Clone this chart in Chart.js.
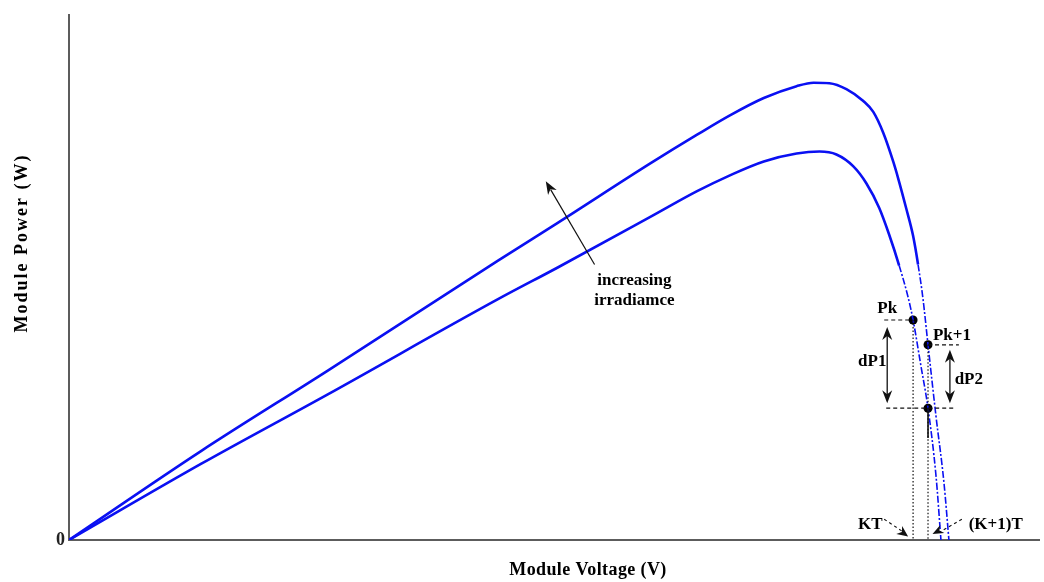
<!DOCTYPE html>
<html>
<head>
<meta charset="utf-8">
<title>Module power versus voltage</title>
<script src="https://cdn.jsdelivr.net/npm/chart.js@4/dist/chart.umd.min.js"></script>
<style>
  html, body { margin: 0; padding: 0; background: #fff; }
  #wrap { width: 1044px; height: 582px; }
</style>
</head>
<body>
<div id="wrap"><canvas id="pv" width="1044" height="582"></canvas></div>
<script>
// P-V curve at the higher irradiance (voltage in V, power in W)
const highV = [0, 5.32, 10.4, 17.24, 19.64, 23.36, 25.24, 26.56, 27.92, 29.24, 29.92, 30.56, 31.24, 31.92, 32.32, 32.72, 33.12, 33.32, 33.64, 33.92, 34.12, 34.32, 34.52, 34.84, 35.16, 35.36];
const highP = [0, 18.0, 34.2, 56.4, 64.0, 76.0, 81.8, 85.7, 89.2, 91.6, 92.3, 92.2, 91.0, 88.6, 86.4, 82.2, 76.4, 73.0, 67.0, 61.4, 55.6, 48.6, 39.4, 25.0, 11.6, 0];

// P-V curve at the lower irradiance
const lowV = [0, 5.32, 10.4, 17.24, 19.64, 23.36, 25.24, 26.56, 27.92, 29.24, 30.16, 30.84, 31.52, 32.04, 32.56, 32.96, 33.36, 33.72, 33.92, 34.24, 34.52, 34.84, 35.04];
const lowP = [0, 15.4, 29.4, 48.6, 55.0, 65.2, 70.4, 73.6, 76.4, 78.0, 78.4, 77.8, 75.4, 72.0, 67.0, 61.6, 55.4, 49.0, 44.4, 35.0, 26.6, 13.0, 0];

// Sampled operating points: Pk at kT, Pk+1 at (k+1)T, and the low-curve power at (k+1)T
const markNames = ['Pk', 'Pk+1', 'P(k+1) low'];
const markV = [33.92, 34.52, 34.52];
const markP = [44.4, 39.4, 26.6];

// Axis extents and the only tick shown
const axisV = [0, 39];
const axisP = [0, 106];
const yTicks = [0];

const toXY = (vs, ps) => vs.map((v, i) => ({ x: v, y: ps[i] }));

const BLUE = '#0a10f2';
const AXIS = '#5c5c5c';
const SERIF = '"Liberation Serif", "Times New Roman", serif';

// On the falling side, below this power the traces switch to dash-dot
const dashBelow = 52;
const isTail = c => c.p1.parsed.y < dashBelow && c.p1.parsed.x > 30;
const segStyle = {
  borderDash: c => (isTail(c) ? [7, 2, 2, 2] : undefined),
  borderWidth: c => (isTail(c) ? 1.6 : 2.6)
};

function arrowHead(ctx, x0, y0, x1, y1, len, half) {
  const a = Math.atan2(y1 - y0, x1 - x0);
  const bx = x1 - len * Math.cos(a), by = y1 - len * Math.sin(a);
  const nx = -Math.sin(a), ny = Math.cos(a);
  const mx = x1 - len * 0.7 * Math.cos(a), my = y1 - len * 0.7 * Math.sin(a);
  ctx.beginPath();
  ctx.moveTo(x1, y1);
  ctx.lineTo(bx + nx * half, by + ny * half);
  ctx.lineTo(mx, my);
  ctx.lineTo(bx - nx * half, by - ny * half);
  ctx.closePath();
  ctx.fill();
}

const annotations = {
  id: 'annotations',
  afterDatasetsDraw(chart) {
    const { ctx } = chart;
    const X = v => chart.scales.x.getPixelForValue(v);
    const Y = p => chart.scales.y.getPixelForValue(p);
    const y0 = Y(0);
    ctx.save();
    ctx.strokeStyle = '#111';
    ctx.fillStyle = '#111';

    // dotted drop lines from the sampled points to the voltage axis
    ctx.lineWidth = 1.2;
    ctx.setLineDash([1.5, 2]);
    [[markV[0], markP[0]], [markV[1], markP[1]]].forEach(([v, p]) => {
      ctx.beginPath();
      ctx.moveTo(X(v), Y(p));
      ctx.lineTo(X(v), y0);
      ctx.stroke();
    });

    // dashed level lines
    ctx.setLineDash([4, 3]);
    ctx.lineWidth = 1.2;
    const levels = [
      [32.76, markV[0], markP[0]],
      [markV[1], 35.76, markP[1]],
      [32.84, 35.64, markP[2]]
    ];
    levels.forEach(([a, b, p]) => {
      ctx.beginPath();
      ctx.moveTo(X(a), Y(p));
      ctx.lineTo(X(b), Y(p));
      ctx.stroke();
    });

    // short solid piece below the lower point
    ctx.setLineDash([]);
    ctx.lineWidth = 1.6;
    ctx.beginPath();
    ctx.moveTo(X(markV[2]), Y(markP[2]));
    ctx.lineTo(X(markV[2]), Y(markP[2] - 6));
    ctx.stroke();

    // double-headed arrows dP1 and dP2
    const dbl = (v, pTop, pBot) => {
      const x = X(v), ya = Y(pTop), yb = Y(pBot);
      ctx.lineWidth = 1.3;
      ctx.beginPath();
      ctx.moveTo(x, ya + 6);
      ctx.lineTo(x, yb - 6);
      ctx.stroke();
      arrowHead(ctx, x, yb, x, ya, 13, 5);
      arrowHead(ctx, x, ya, x, yb, 13, 5);
    };
    dbl(32.88, markP[0] - 1.4, markP[2] + 1.0);
    dbl(35.40, markP[1] - 1.0, markP[2] + 1.0);

    // leaders for the sampling instants
    ctx.lineWidth = 1.1;
    ctx.setLineDash([3, 3]);
    ctx.beginPath();
    ctx.moveTo(X(32.76), Y(4.2));
    ctx.lineTo(X(33.50), Y(1.7));
    ctx.moveTo(X(35.88), Y(4.2));
    ctx.lineTo(X(35.06), Y(1.8));
    ctx.stroke();
    ctx.setLineDash([]);
    arrowHead(ctx, X(32.76), Y(4.2), X(33.72), Y(0.7), 11, 5);
    arrowHead(ctx, X(35.88), Y(4.2), X(34.70), Y(1.2), 11, 4.5);

    // irradiance arrow
    ctx.lineWidth = 1.2;
    const tx = X(21.12), ty = Y(55.6), hx = X(19.16), hy = Y(72.4);
    ctx.beginPath();
    ctx.moveTo(tx, ty);
    ctx.lineTo(hx + (tx - hx) * 0.1, hy + (ty - hy) * 0.1);
    ctx.stroke();
    arrowHead(ctx, tx, ty, hx, hy, 13, 5);

    // text labels
    ctx.fillStyle = '#000';
    ctx.textAlign = 'center';
    ctx.textBaseline = 'middle';
    ctx.font = 'bold 17px ' + SERIF;
    ctx.fillText('Pk', X(32.88), Y(46.8));
    ctx.fillText('Pk+1', X(35.48), Y(41.2));
    ctx.fillText('dP1', X(32.28), Y(36.0));
    ctx.fillText('dP2', X(36.16), Y(32.4));
    ctx.fillText('KT', X(32.20), Y(3.2));
    ctx.fillText('(K+1)T', X(37.24), Y(3.2));
    ctx.fillText('increasing', X(22.72), Y(52.4));
    ctx.fillText('irradiamce', X(22.72), Y(48.4));
    ctx.restore();
  },
  afterDraw(chart) {
    const { ctx } = chart;
    ctx.save();
    ctx.fillStyle = '#000';
    ctx.textAlign = 'center';
    ctx.textBaseline = 'middle';
    ctx.font = 'bold 18px ' + SERIF;
    ctx.letterSpacing = '0.4px';
    ctx.fillText('Module Voltage (V)', 588, 570);
    ctx.translate(22, 243);
    ctx.rotate(-Math.PI / 2);
    ctx.letterSpacing = '2px';
    ctx.fillText('Module Power (W)', 0, 0);
    ctx.restore();
  }
};

new Chart(document.getElementById('pv'), {
  type: 'scatter',
  data: {
    datasets: [
      {
        label: 'higher irradiance',
        data: toXY(highV, highP),
        showLine: true,
        borderColor: BLUE,
        borderWidth: 2.6,
        pointRadius: 0,
        cubicInterpolationMode: 'monotone',
        segment: segStyle
      },
      {
        label: 'lower irradiance',
        data: toXY(lowV, lowP),
        showLine: true,
        borderColor: BLUE,
        borderWidth: 2.6,
        pointRadius: 0,
        cubicInterpolationMode: 'monotone',
        segment: segStyle
      },
      {
        label: 'samples',
        data: toXY(markV, markP),
        showLine: false,
        pointRadius: 4.5,
        pointBackgroundColor: '#000',
        pointBorderColor: '#000',
        pointBorderWidth: 0
      }
    ]
  },
  options: {
    responsive: false,
    animation: false,
    devicePixelRatio: 1,
    layout: { padding: { top: 10, right: 0, bottom: 0, left: 0 } },
    plugins: { legend: { display: false }, tooltip: { enabled: false }, title: { display: false } },
    scales: {
      x: {
        type: 'linear',
        min: axisV[0],
        max: axisV[1],
        grid: { display: false },
        border: { display: true, color: AXIS, width: 2 },
        ticks: { display: false },
        afterFit: s => { s.height = 42; }
      },
      y: {
        type: 'linear',
        min: axisP[0],
        max: axisP[1],
        grid: { display: false, drawTicks: false },
        border: { display: true, color: AXIS, width: 2 },
        afterBuildTicks: s => { s.ticks = yTicks.map(v => ({ value: v })); },
        ticks: {
          padding: 4,
          color: '#222',
          font: { family: SERIF, size: 18, weight: 'bold' },
          callback: v => String(v)
        },
        afterFit: s => { s.width = 69; }
      }
    }
  },
  plugins: [annotations]
});
</script>
</body>
</html>
